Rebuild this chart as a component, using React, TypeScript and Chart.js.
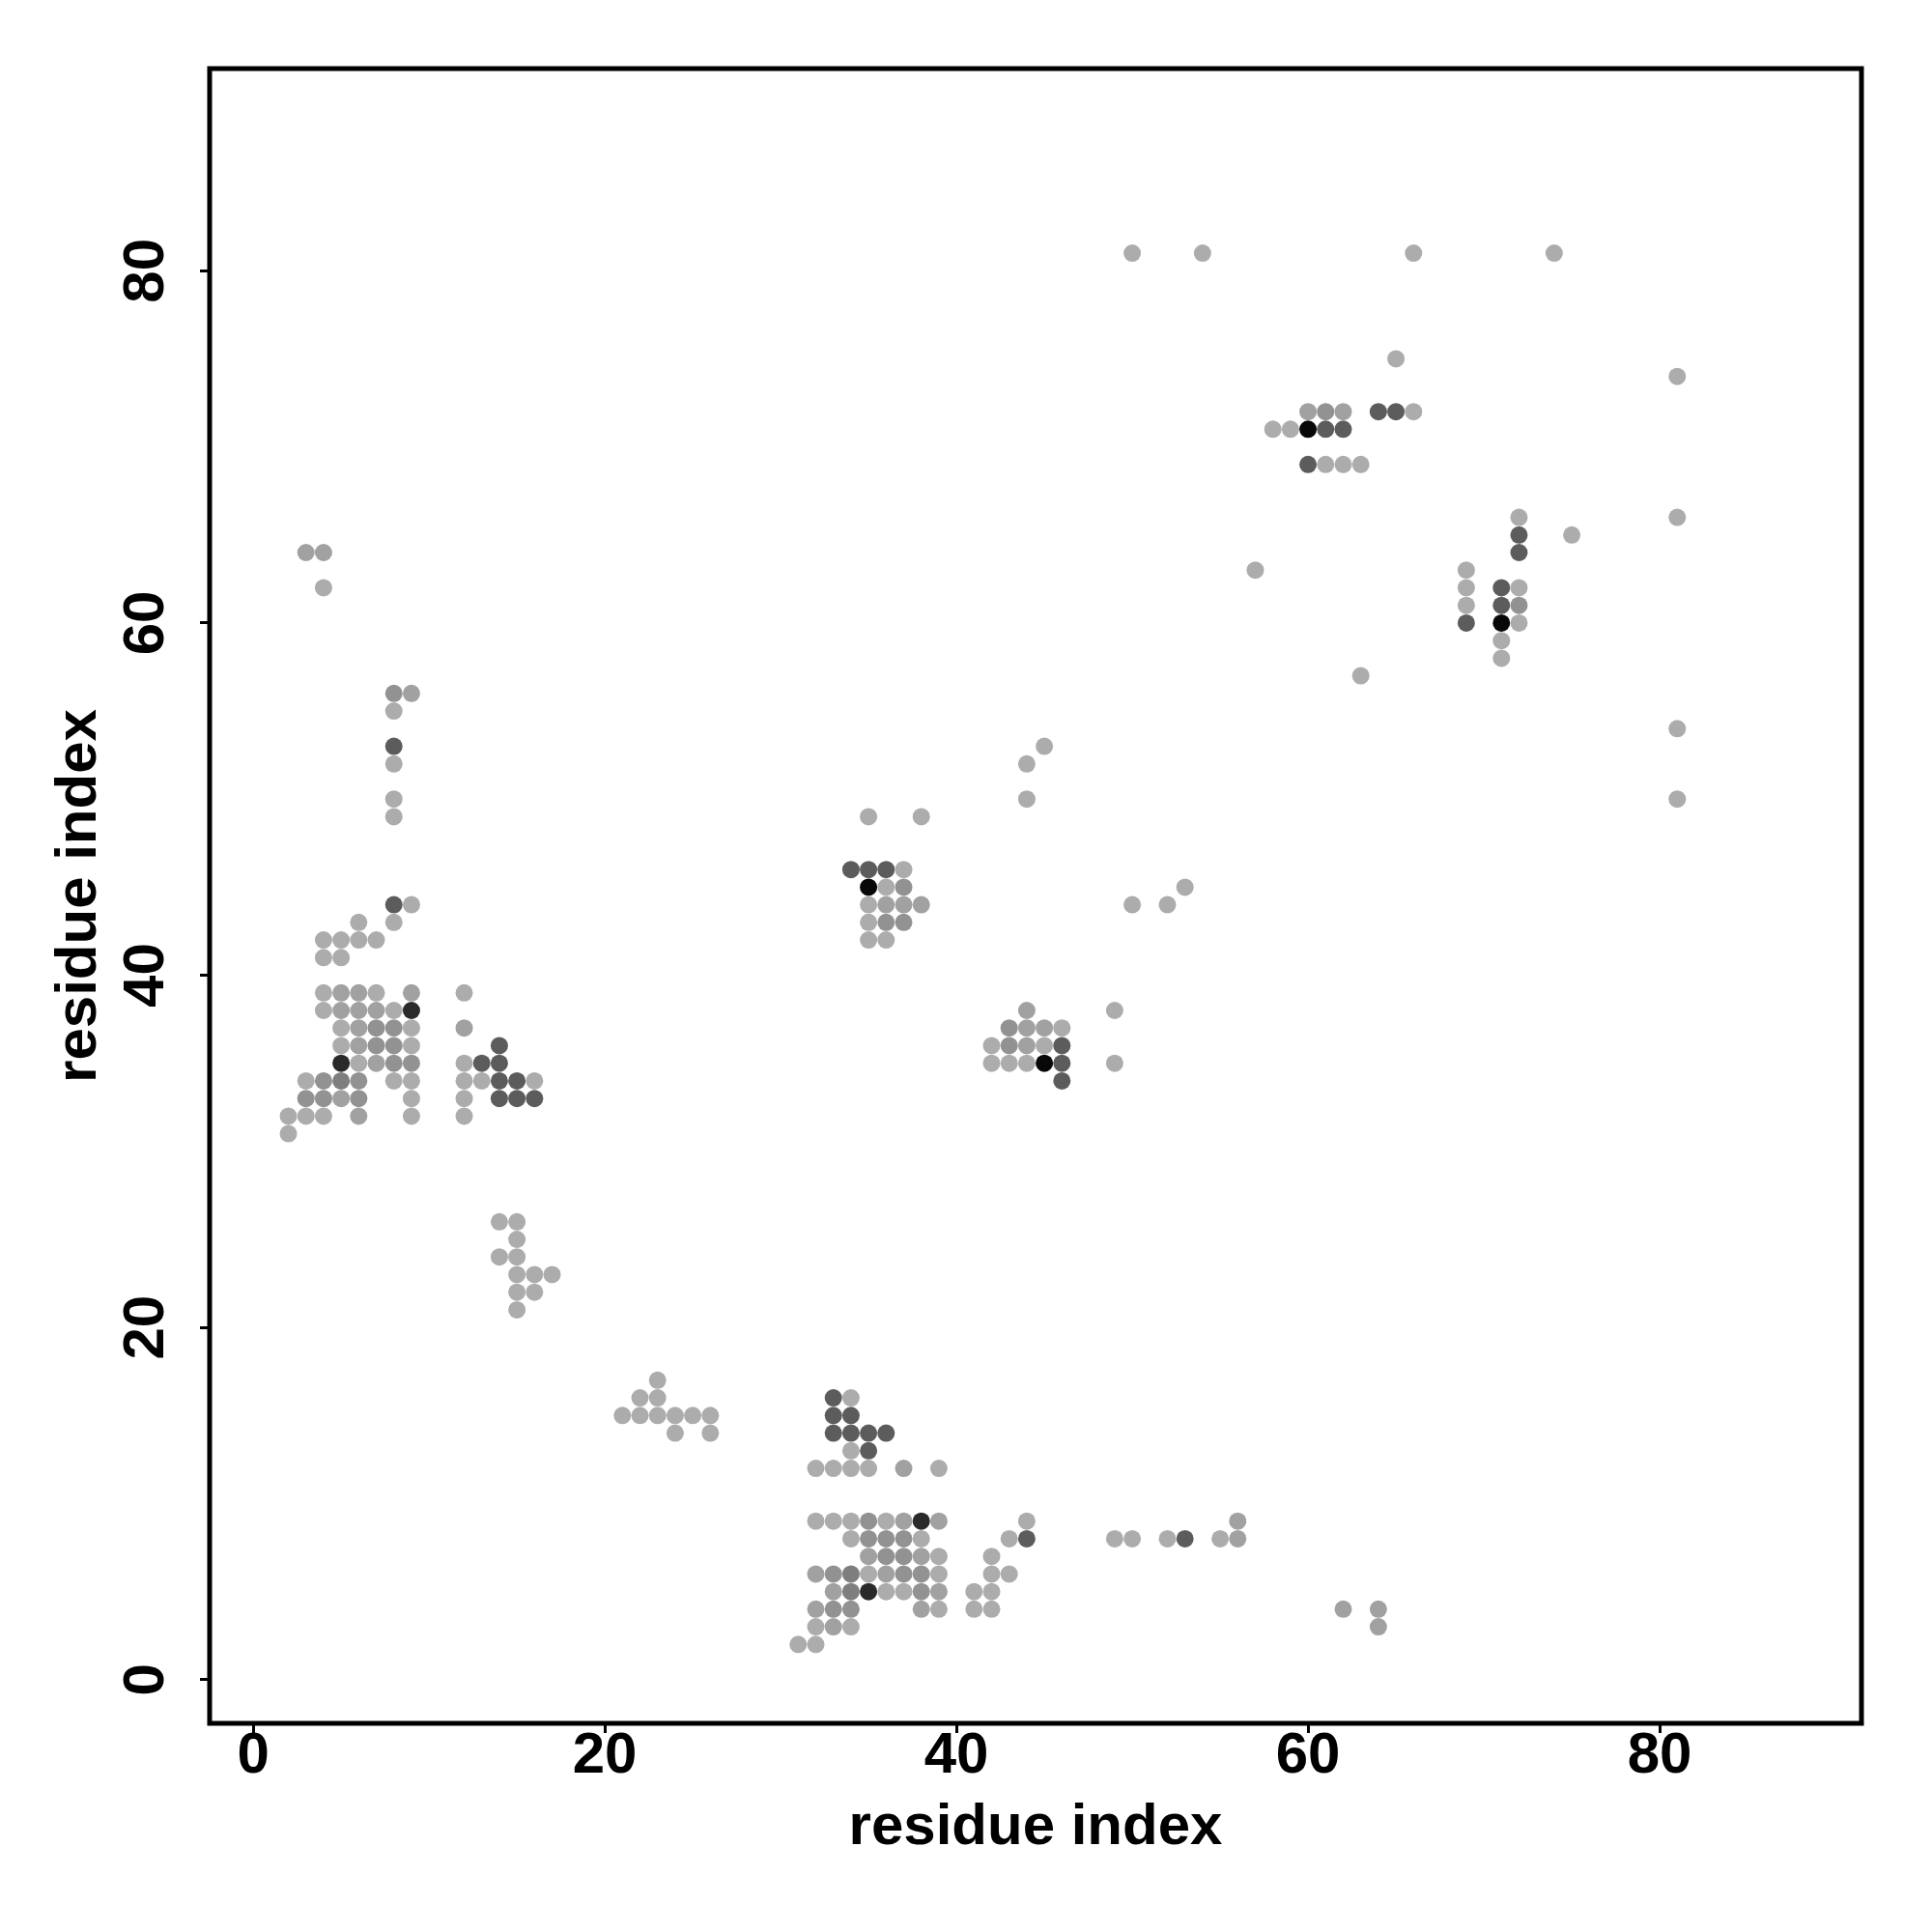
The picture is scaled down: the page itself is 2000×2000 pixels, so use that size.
import React, { useEffect, useRef } from "react";
import { Chart, registerables } from "chart.js";

Chart.register(...registerables);

// ---- data ----
const axisTicks = [0, 20, 40, 60, 80];
const axisTitle = "residue index";
const axisMin = -2.48;
const axisMax = 91.48;

type P = [number, number];

const lightContacts: P[] = [
  [9, 44], [6, 43], [8, 43], [4, 42], [5, 42], [6, 42], [7, 42], [4, 41], [5, 41],
  [4, 39], [7, 39], [12, 39], [4, 38], [8, 38], [5, 37], [9, 37], [5, 36], [9, 36],
  [6, 35], [12, 35], [3, 34], [8, 34], [9, 34], [12, 34], [13, 34], [16, 34],
  [9, 33], [12, 33], [2, 32], [3, 32], [4, 32], [9, 32], [12, 32], [2, 31],
  [14, 26], [15, 26], [15, 25], [14, 24], [15, 24], [15, 23], [16, 23], [17, 23],
  [15, 22], [16, 22], [15, 21],
  [4, 62], [8, 55], [8, 52], [8, 50], [8, 49],
  [23, 17], [22, 16], [23, 16], [21, 15], [22, 15], [23, 15], [24, 15], [25, 15], [26, 15],
  [24, 14], [26, 14],
  [34, 16], [34, 13], [32, 12], [33, 12], [34, 12], [35, 12], [39, 12],
  [32, 9], [33, 9], [34, 9], [36, 9], [44, 9],
  [34, 8], [38, 8], [43, 8], [49, 8], [50, 8], [52, 8], [55, 8],
  [39, 7], [42, 7], [35, 6], [39, 6], [42, 6], [43, 6], [36, 5], [37, 5], [41, 5], [42, 5],
  [39, 4], [41, 4], [42, 4], [32, 3], [34, 3], [31, 2], [32, 2],
  [45, 53], [44, 52], [44, 50], [35, 49], [38, 49], [37, 46], [36, 45], [35, 44],
  [50, 44], [52, 44], [53, 45], [35, 43], [35, 42], [36, 42], [49, 38], [46, 37],
  [42, 36], [45, 36], [42, 35], [43, 35], [44, 35], [49, 35],
  [50, 81], [54, 81], [66, 81], [74, 81], [65, 75], [81, 74], [66, 72], [58, 71], [59, 71],
  [61, 69], [62, 69], [63, 69], [72, 66], [81, 66], [75, 65], [57, 63], [69, 63],
  [69, 62], [72, 62], [69, 61], [72, 60], [71, 59], [71, 58], [63, 57], [81, 54], [81, 50],
];

const midLightContacts: P[] = [
  [5, 39], [6, 39], [9, 39], [5, 38], [6, 38], [7, 38], [6, 37], [6, 36], [7, 35],
  [5, 33], [6, 32], [12, 37], [3, 64], [4, 64], [9, 56],
  [32, 6], [33, 5], [32, 4], [33, 3], [37, 9], [39, 9], [35, 7], [38, 7], [36, 6],
  [39, 5], [38, 4], [37, 12], [56, 8], [56, 9], [62, 4], [64, 4], [64, 3],
  [36, 44], [37, 44], [38, 44], [44, 38], [44, 37], [45, 37], [44, 36],
  [60, 72], [62, 72],
];

const midContacts: P[] = [
  [7, 37], [8, 37], [7, 36], [8, 36], [8, 35], [9, 35], [4, 34], [6, 34], [3, 33],
  [4, 33], [6, 33], [8, 56],
  [33, 6], [33, 4], [34, 4], [35, 9], [35, 8], [36, 8], [37, 8], [36, 7], [37, 7],
  [37, 6], [38, 6], [38, 5],
  [37, 45], [36, 43], [37, 43], [43, 37], [43, 36],
  [61, 72], [72, 61],
];

const midDarkContacts: P[] = [[5, 34], [34, 6], [34, 5]];

const darkContacts: P[] = [
  [8, 44], [8, 53], [13, 35], [14, 35], [14, 36], [14, 34], [15, 34], [14, 33], [15, 33], [16, 33],
  [33, 16], [33, 15], [34, 15], [33, 14], [34, 14], [35, 14], [36, 14], [35, 13], [44, 8], [53, 8],
  [34, 46], [35, 46], [36, 46], [46, 36], [46, 35], [46, 34],
  [64, 72], [65, 72], [61, 71], [62, 71], [60, 69], [72, 65], [72, 64], [71, 62], [71, 61], [69, 60],
];

const veryDarkContacts: P[] = [[5, 35], [9, 38], [38, 9], [35, 5]];

const blackContacts: P[] = [[35, 45], [45, 35], [60, 71], [71, 60]];

const groups: { pts: P[]; color: string }[] = [
  { pts: lightContacts, color: "#acacac" },
  { pts: midLightContacts, color: "#a1a1a1" },
  { pts: midContacts, color: "#929292" },
  { pts: midDarkContacts, color: "#7e7e7e" },
  { pts: darkContacts, color: "#5c5c5c" },
  { pts: veryDarkContacts, color: "#2a2a2a" },
  { pts: blackContacts, color: "#080808" },
];

const FONT = "'Liberation Sans', Arial, Helvetica, sans-serif";

const framePlugin = {
  id: "frame",
  afterDraw(chart: any) {
    const { ctx, chartArea } = chart;
    ctx.save();
    ctx.strokeStyle = "#000";
    ctx.lineWidth = 5;
    ctx.strokeRect(chartArea.left, chartArea.top, chartArea.right - chartArea.left, chartArea.bottom - chartArea.top);
    ctx.restore();
  },
};

export default function App() {
  const ref = useRef<HTMLCanvasElement | null>(null);

  useEffect(() => {
    if (!ref.current) return;
    const setTicks = (scale: any) => {
      scale.ticks = axisTicks.map((v) => ({ value: v }));
    };
    const chart = new Chart(ref.current, {
      type: "scatter",
      data: {
        datasets: groups.map((g) => ({
          data: g.pts.map(([x, y]) => ({ x, y })),
          backgroundColor: g.color,
          borderWidth: 0,
          pointRadius: 9,
          pointHoverRadius: 9,
        })),
      },
      options: {
        responsive: false,
        animation: false,
        events: [],
        layout: { padding: { left: 0, top: 71, right: 73, bottom: 0 } },
        plugins: { legend: { display: false }, tooltip: { enabled: false } },
        scales: {
          x: {
            type: "linear",
            min: axisMin,
            max: axisMax,
            afterBuildTicks: setTicks,
            afterFit: (s: any) => { s.height = 216; },
            grid: { drawOnChartArea: false, drawTicks: true, tickLength: 10, tickWidth: 3, tickColor: "#000" },
            border: { display: false },
            ticks: {
              color: "#000",
              padding: -6,
              font: { family: FONT, size: 60, weight: "bold", lineHeight: 1 },
              maxRotation: 0,
              minRotation: 0,
            },
            title: {
              display: true,
              text: axisTitle,
              color: "#000",
              font: { family: FONT, size: 60, weight: "bold", lineHeight: 1 },
              padding: { top: 0, bottom: 78 },
            },
          },
          y: {
            type: "linear",
            min: axisMin,
            max: axisMax,
            afterBuildTicks: setTicks,
            afterFit: (s: any) => { s.width = 217; },
            grid: { drawOnChartArea: false, drawTicks: true, tickLength: 10, tickWidth: 3, tickColor: "#000" },
            border: { display: false },
            ticks: {
              color: "#000",
              padding: 21,
              crossAlign: "center",
              minRotation: 90,
              maxRotation: 90,
              font: { family: FONT, size: 60, weight: "bold", lineHeight: 1 },
            },
            title: {
              display: true,
              text: axisTitle,
              color: "#000",
              font: { family: FONT, size: 60, weight: "bold", lineHeight: 1 },
              padding: { top: 52, bottom: 0 },
            },
          },
        },
      },
      plugins: [framePlugin],
    } as any);
    return () => chart.destroy();
  }, []);

  return (
    <div style={{ position: "absolute", left: 0, top: 0, width: 2000, height: 2000, background: "#fff" }}>
      <canvas ref={ref} width={2000} height={2000} style={{ display: "block", width: 2000, height: 2000 }} />
    </div>
  );
}
